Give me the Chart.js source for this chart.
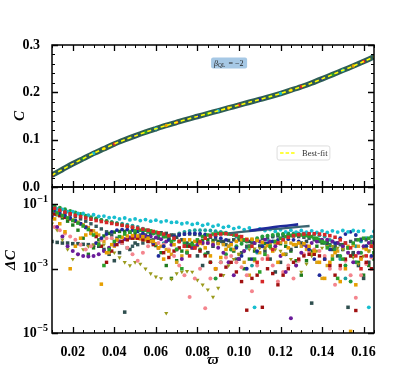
<!DOCTYPE html>
<html>
<head>
<meta charset="utf-8">
<script src="https://cdn.jsdelivr.net/npm/chart.js@4.4.0/dist/chart.umd.min.js"></script>
<style>
html, body { margin: 0; padding: 0; background: #fff; }
#wrap { position: relative; width: 415px; height: 374px; }
#wrap canvas { position: absolute; left: 0; top: 0; }
</style>
</head>
<body>
<div id="wrap">
  <canvas id="topChart" width="415" height="374"></canvas>
  <canvas id="bottomChart" width="415" height="374"></canvas>
</div>
<script>
// --- datos ---
const omegaFit = [0.010,0.015,0.020,0.025,0.030,0.035,0.040,0.045,0.050,0.055,0.060,0.065,0.070,0.075,0.080,0.085,
                  0.090,0.095,0.100,0.105,0.110,0.115,0.120,0.125,0.130,0.135,0.140,0.145,0.150,0.155,0.160,0.165];
const cFit = [0.025,0.037,0.049,0.060,0.071,0.081,0.091,0.0998,0.108,0.1158,0.123,0.130,0.1365,0.143,0.149,0.155,
              0.161,0.167,0.173,0.179,0.185,0.191,0.1975,0.2045,0.2118,0.2198,0.2285,0.2375,0.2465,0.2555,0.265,0.275];

const xTickValues = [0.02,0.04,0.06,0.08,0.10,0.12,0.14,0.16];
const cTickValues = [0.0,0.1,0.2,0.3];
const dcTickValues = [1e-5,1e-3,1e-1];

// rejilla A y rejilla B (desplazada medio paso)
const omegaA = [0.0100,0.0125,0.0150,0.0175,0.0200,0.0225,0.0250,0.0275,0.0300,0.0325,0.0350,0.0375,0.0400,0.0425,0.0450,0.0475,
  0.0500,0.0525,0.0550,0.0575,0.0600,0.0625,0.0650,0.0675,0.0700,0.0725,0.0750,0.0775,0.0800,0.0825,0.0850,0.0875,
  0.0900,0.0925,0.0950,0.0975,0.1000,0.1025,0.1050,0.1075,0.1100,0.1125,0.1150,0.1175,0.1200,0.1225,0.1250,0.1275,
  0.1300,0.1325,0.1350,0.1375,0.1400,0.1425,0.1450,0.1475,0.1500,0.1525,0.1550,0.1575,0.1600,0.1625,0.1650];
const omegaB = [0.01125,0.01375,0.01625,0.01875,0.02125,0.02375,0.02625,0.02875,0.03125,0.03375,0.03625,0.03875,0.04125,0.04375,0.04625,0.04875,
  0.05125,0.05375,0.05625,0.05875,0.06125,0.06375,0.06625,0.06875,0.07125,0.07375,0.07625,0.07875,0.08125,0.08375,0.08625,0.08875,
  0.09125,0.09375,0.09625,0.09875,0.10125,0.10375,0.10625,0.10875,0.11125,0.11375,0.11625,0.11875,0.12125,0.12375,0.12625,0.12875,
  0.13125,0.13375,0.13625,0.13875,0.14125,0.14375,0.14625,0.14875,0.15125,0.15375,0.15625,0.15875,0.16125,0.16375,0.16625];

// log10(ΔC) por serie
const logTeal = [-1.08,-1.14,-1.15,-1.22,-1.22,-1.28,-1.28,-1.33, -1.32,-1.37,-1.36,-1.41,-1.40,-1.45,-1.42,-1.48,
  -1.45,-1.50,-1.47,-1.52,-1.49,-1.54,-1.51,-1.56, -1.55,-1.60,-1.57,-1.62,-1.59,-1.65,-1.61,-1.68,
  -1.64,-1.71,-1.68,-1.75,-1.71,-1.78,-1.73,-4.2, -1.76,-1.81,-1.78,-1.84,-1.79,-1.85,-1.80,-1.86,
  -1.81,-1.86,-1.82,-1.87,-1.82,-1.87,-1.82,-1.86, -1.81,-1.85,-1.81,-1.84,-1.82,-4.2,-1.84];
const logNavy = [-1.20,-1.28,-1.35,-1.42,-1.50,-1.60,-1.72,-1.90, -2.2,-2.05,-1.92,-1.85,-1.80,-1.78,-1.78,-1.80,
  -1.84,-1.90,-2.0,-2.2,-2.6,-2.3,-2.1,-2.0, -1.95,-1.92,-1.90,-1.90,-1.91,-1.93,-1.96,-2.0,
  -2.05,-2.1,-2.2,-2.35,-2.6,-3.0,-2.7,-2.45, -2.3,-2.2,-2.15,-2.1,-2.08,-2.08,-2.1,-2.15,
  -2.25,-2.4,-2.7,-3.2,-2.7,-2.4,-2.2,-2.05, -1.92,-1.85,-1.95,-2.1,-2.3,-2.6,-2.4];
const logSlate = [-2.15,-2.18,-2.2,-2.2,-2.22,-2.22,-2.24,-2.25, -2.27,-2.3,-2.4,-2.55,-2.75,-2.5,-4.35,-2.4,
  -2.2,-2.05,-1.95,-1.9,-1.88,-1.88,-1.9,-1.95, -2.02,-2.1,-2.2,-2.35,-2.6,-2.9,-2.5,-2.3,
  -2.2,-2.15,-2.12,-2.1,-2.1,-2.12,-2.15,-2.2, -2.3,-2.45,-2.7,-3.1,-2.8,-2.55,-2.4,-2.3,
  -2.2,-2.15,-4.07,-2.1,-2.15,-2.25,-2.4,-2.6, -2.4,-4.2,-2.5,-2.9,-3.3,-2.8,-2.5];
const logSlateB = [-1.15,-1.2,-1.26,-1.32,-1.38,-1.45,-1.52,-1.6, -1.68,-1.76,-1.85,-1.95,-2.05,-2.2,-2.35,-2.3,
  -2.25,-2.2,-2.15,-2.1,-2.05,-2.0,-1.97,-1.95, -1.93,-1.92,-1.92,-1.93,-1.95,-1.98,-2.02,-2.08,
  -2.15,-2.25,-2.4,-2.7,-2.5,-2.3,-2.2,-2.12, -2.06,-2.02,-2.0,-1.98,-1.97,-1.97,-1.98,-2.0,
  -2.02,-2.05,-2.1,-2.15,-2.2,-2.25,-2.3,-2.25, -2.2,-2.15,-2.1,-2.08,-2.1,-2.15,-2.2];
const logRed = [-1.12,-1.18,-1.24,-1.29,-1.34,-1.38,-1.42,-1.46, -1.50,-1.53,-1.56,-1.59,-1.62,-1.65,-1.68,-1.71,
  -1.74,-1.77,-1.80,-1.84,-1.88,-1.92,-1.97,-2.05, -2.15,-2.3,-2.6,-2.35,-2.15,-2.05,-1.98,-1.94,
  -1.92,-1.91,-1.92,-1.95,-2.0,-2.1,-2.3,-2.8, -3.4,-2.7,-2.4,-2.2,-2.1,-2.02,-1.97,-1.94,
  -1.92,-1.91,-1.91,-1.92,-1.94,-1.97,-2.02,-2.1, -2.2,-2.35,-2.6,-3.0,-2.6,-2.3,-2.2];
const logGreen = [-1.18,-1.26,-1.34,-1.42,-1.50,-1.58,-1.67,-1.78, -1.95,-2.25,-2.9,-2.4,-2.15,-2.0,-1.92,-1.86,
  -1.82,-1.8,-1.8,-1.82,-1.86,-1.92,-2.0,-2.15, -2.4,-3.0,-2.5,-2.25,-2.1,-2.0,-1.95,-1.92,
  -1.9,-1.9,-1.92,-1.95,-2.0,-2.1,-2.3,-2.7, -3.1,-2.55,-2.3,-2.15,-2.05,-2.0,-1.97,-1.95,
  -1.95,-1.97,-2.0,-2.05,-2.15,-2.35,-2.7,-3.3, -2.7,-2.35,-2.2,-2.1,-2.05,-2.05,-2.5];
const logGreenB = [-1.05,-1.1,-1.15,-1.2,-1.25,-1.3,-1.35,-1.4, -1.44,-1.48,-1.52,-1.56,-1.6,-1.64,-1.68,-1.72,
  -1.76,-1.8,-1.85,-1.9,-1.95,-2.0,-2.05,-2.1, -2.15,-2.2,-2.25,-2.3,-2.4,-2.55,-2.8,-3.3,
  -2.8,-2.55,-2.4,-2.3,-2.22,-2.15,-2.1,-2.05, -2.0,-1.97,-1.95,-1.93,-1.92,-1.92,-1.93,-1.95,
  -1.97,-2.0,-2.05,-2.1,-2.18,-2.28,-2.4,-2.6, -2.9,-3.4,-2.8,-2.5,-2.3,-2.2,-2.15];
const logOrange = [-1.45,-1.6,-1.85,-3.0,-2.3,-2.05,-1.95,-1.9, -1.9,-3.48,-2.5,-2.25,-2.1,-2.02,-1.98,-1.97,
  -1.98,-2.0,-2.05,-2.15,-2.35,-2.7,-2.45,-2.25, -2.15,-2.1,-2.1,-2.15,-2.2,-2.35,-2.6,-3.0,
  -2.65,-2.4,-2.25,-2.15,-2.1,-2.08,-2.08,-2.12, -2.18,-2.28,-2.45,-2.8,-2.55,-2.35,-2.25,-2.2,
  -2.22,-2.3,-2.45,-2.8,-3.3,-2.8,-2.5,-3.4, -3.0,-4.95,-3.5,-2.7,-2.4,-2.3,-2.3];
const logGold = [-1.25,-1.3,-1.36,-1.42,-1.48,-1.55,-1.63,-1.72, -1.82,-1.95,-2.15,-2.5,-2.3,-2.15,-2.08,-2.05,
  -2.05,-2.07,-2.1,-2.15,-2.22,-2.3,-2.4,-2.55, -2.8,-2.6,-2.45,-2.35,-2.28,-2.22,-2.2,-2.2,
  -2.22,-2.25,-2.3,-2.4,-2.55,-2.8,-3.2,-2.75, -2.5,-2.35,-2.25,-2.2,-2.18,-2.18,-2.2,-2.25,
  -2.3,-2.4,-2.55,-2.8,-3.3,-2.9,-2.6,-2.45, -2.35,-2.3,-2.28,-2.3,-2.35,-2.45,-2.6];
const logPurple = [-1.4,-1.7,-2.0,-2.3,-2.45,-2.55,-2.6,-2.62, -2.6,-2.55,-2.45,-2.35,-2.25,-2.15,-2.08,-2.03,
  -2.0,-1.98,-1.98,-2.0,-2.03,-2.08,-2.15,-2.25, -2.4,-2.7,-2.5,-2.35,-2.25,-2.2,-2.2,-2.25,
  -2.35,-2.5,-2.8,-3.2,-2.7,-2.45,-2.3,-2.2, -2.15,-2.1,-2.15,-2.3,-2.6,-3.1,-4.54,-2.9,
  -2.5,-2.3,-2.2,-2.15,-2.1,-2.1,-2.15,-2.2, -2.3,-2.5,-2.8,-2.5,-2.3,-2.2,-2.2];
const logPink = [-1.7,-1.8,-1.9,-2.0,-2.1,-2.25,-2.4,-2.3, -2.2,-2.1,-2.05,-2.05,-2.1,-2.2,-2.35,-2.55,
  -2.75,-2.5,-2.3,-2.2,-2.2,-2.25,-2.4,-2.6, -2.9,-3.2,-3.88,-3.3,-3.0,-4.23,-3.3,-3.0,
  -2.8,-2.65,-2.6,-2.8,-2.95,-3.2,-3.7,-2.9, -2.7,-2.6,-2.9,-3.4,-3.1,-2.9,-3.3,-2.75,
  -2.55,-2.45,-2.4,-2.45,-2.6,-3.0,-3.5,-3.0, -2.75,-3.2,-3.9,-3.2,-2.85,-2.65,-2.55];
const logOlive = [-1.6,-1.8,-2.1,-2.4,-2.7,-2.55,-2.4,-2.3, -2.25,-2.2,-2.25,-2.35,-2.5,-2.65,-2.8,-2.9,
  -2.8,-2.85,-3.0,-3.15,-3.25,-3.3,-4.38,-3.32, -3.15,-3.1,-3.08,-3.1,-3.35,-3.5,-3.65,-3.88,
  -3.6,-3.2,-2.9,-2.7,-2.55,-2.45,-2.4,-2.38, -2.36,-2.35,-2.36,-2.4,-2.45,-2.55,-2.7,-2.9,
  -3.1,-2.85,-2.6,-2.45,-2.35,-2.3,-2.3,-2.35, -2.4,-2.5,-2.65,-2.85,-2.6,-2.45,-2.4];
const logDarkRed = [-1.3,-1.35,-1.4,-1.45,-1.52,-1.6,-1.7,-1.82, -2.0,-2.3,-2.8,-2.45,-2.25,-2.15,-2.1,-2.05,
  -2.05,-2.1,-2.15,-2.25,-2.35,-2.5,-2.65,-2.45, -2.35,-2.3,-2.3,-2.35,-2.45,-2.6,-2.8,-3.0,
  -3.2,-2.95,-2.8,-3.1,-3.4,-4.29,-3.3,-3.2, -4.2,-3.0,-3.15,-3.5,-3.2,-3.0,-2.8,-2.7,
  -2.6,-2.55,-2.55,-2.6,-2.7,-2.9,-3.2,-2.9, -2.7,-2.6,-4.3,-2.65,-2.8,-3.0,-3.6];
const logCyan = [-1.08,-1.14,-1.2,-1.25,-1.3,-1.34,-1.38,-1.42, -1.45,-1.48,-1.51,-1.54,-1.57,-1.6,-1.63,-1.66,
  -1.7,-1.75,-1.8,-1.87,-1.97,-2.2,-2.1,-1.98, -1.9,-1.85,-1.82,-1.8,-1.8,-1.8,-1.81,-1.83,
  -1.85,-1.88,-1.92,-2.0,-2.12,-2.35,-2.9,-2.5, -2.2,-2.08,-2.0,-1.95,-1.92,-1.9,-1.9,-1.9,
  -1.9,-1.91,-1.93,-1.96,-2.0,-2.1,-2.3,-2.7, -3.3,-2.6,-2.3,-2.15,-2.05,-2.0,-2.0];
const logForest = [-1.22,-1.32,-1.42,-1.52,-1.64,-1.8,-2.05,-2.55, -2.35,-2.1,-1.98,-1.9,-1.86,-1.84,-1.84,-1.86,
  -1.9,-1.95,-2.02,-2.12,-2.28,-2.5,-2.9,-3.3, -2.75,-2.45,-2.3,-2.2,-2.15,-2.12,-2.1,-2.12,
  -2.15,-2.2,-2.3,-2.45,-2.7,-3.0,-2.7,-2.45, -2.3,-2.22,-2.18,-2.18,-2.22,-2.3,-2.45,-2.75,
  -3.2,-2.75,-2.45,-2.3,-2.2,-2.15,-2.15,-2.2, -2.25,-2.35,-2.55,-2.8,-3.2,-2.9,-2.7];

// trazos continuos por encima de la banda
const navyStreakX = [0.105,0.108,0.111,0.114,0.117,0.120,0.123,0.126,0.1285];
const navyStreakLog = [-1.82,-1.79,-1.76,-1.73,-1.70,-1.68,-1.66,-1.64,-1.62];
const slateStreakX = [0.095,0.100,0.105,0.110,0.115,0.120,0.125,0.130,0.134];
const slateStreakLog = [-1.90,-1.86,-1.83,-1.80,-1.77,-1.75,-1.72,-1.69,-1.67];

// --- estilos ---
const SERIF = "'Liberation Serif', 'DejaVu Serif', serif";
Chart.defaults.font.family = SERIF;
Chart.defaults.color = '#000';

const series = [
  { xs: omegaB, vals: logRed, color: '#d62728', style: 'rect', r: 2.5 },
  { xs: omegaA, vals: logGreen, color: '#2ca02c', style: 'rect', r: 2.5 },
  { xs: omegaA, vals: logTeal, color: '#17becf', style: 'circle', r: 1.9 },
  { xs: omegaB, vals: logOrange, color: '#e69f00', style: 'rect', r: 2.5 },
  { xs: omegaB, vals: logNavy, color: '#1f2a9a', style: 'circle', r: 1.9 },
  { xs: omegaB, vals: logDarkRed, color: '#a01010', style: 'rect', r: 2.4 },
  { xs: omegaA, vals: logPurple, color: '#6a1b9a', style: 'circle', r: 2.0 },
  { xs: omegaB, vals: logPink, color: '#f4858e', style: 'circle', r: 2.0 },
  { xs: omegaA, vals: logOlive, color: '#9a9a1c', style: 'triangle', r: 2.4, rot: 180 },
  { xs: omegaA, vals: logGold, color: '#d9a21b', style: 'rect', r: 2.4 },
  { xs: omegaB, vals: logGreenB, color: '#239b3a', style: 'circle', r: 2.0 },
  { xs: omegaA, vals: logSlate, color: '#2f4f4f', style: 'rect', r: 2.5 },
  { xs: omegaB, vals: logSlateB, color: '#36595c', style: 'rect', r: 2.4 },
  { xs: omegaB, vals: logCyan, color: '#1b9e9e', style: 'circle', r: 1.9 },
  { xs: omegaA, vals: logForest, color: '#1e7b1e', style: 'rect', r: 2.4 }
];

function toPoints(xs, logs) {
  const pts = [];
  logs.forEach((v, i) => {
    if (v !== null && xs[i] !== undefined) pts.push({ x: xs[i], y: Math.pow(10, v) });
  });
  return pts;
}

function minorTicks(a, b, step) {
  const out = [];
  for (let v = a; v <= b + 1e-9; v += step) out.push(+v.toFixed(4));
  return out;
}

// marco con ticks hacia dentro en los cuatro lados
const framePlugin = {
  id: 'frame',
  afterDatasetsDraw(chart, args, opts) {
    const { ctx, chartArea: a } = chart;
    const xs = chart.scales.x, ys = chart.scales.y;
    ctx.save();
    ctx.strokeStyle = '#000';
    const xTicks = (vals, len) => vals.forEach(v => {
      const p = Math.round(xs.getPixelForValue(v)) + 0.5;
      ctx.beginPath();
      ctx.moveTo(p, a.top); ctx.lineTo(p, a.top + len);
      ctx.moveTo(p, a.bottom); ctx.lineTo(p, a.bottom - len);
      ctx.stroke();
    });
    const yTicks = (vals, len) => vals.forEach(v => {
      const p = Math.round(ys.getPixelForValue(v)) + 0.5;
      ctx.beginPath();
      ctx.moveTo(a.left, p); ctx.lineTo(a.left + len, p);
      ctx.moveTo(a.right, p); ctx.lineTo(a.right - len, p);
      ctx.stroke();
    });
    ctx.lineWidth = 1;
    xTicks(opts.xMinor || [], 3);
    yTicks(opts.yMinor || [], 3);
    ctx.lineWidth = 1.3;
    xTicks(opts.xMajor || [], 6);
    yTicks(opts.yMajor || [], 6);
    ctx.lineWidth = 1.5;
    ctx.strokeRect(a.left, a.top, a.right - a.left, a.bottom - a.top);
    ctx.restore();
  }
};

// etiqueta beta y leyenda del panel superior
const notesPlugin = {
  id: 'notes',
  afterDraw(chart) {
    const { ctx, chartArea: a } = chart;
    const W = a.right - a.left, H = a.bottom - a.top;
    ctx.save();
    // caja beta
    const bx = a.left + 0.55 * W, by = a.top + 0.127 * H;
    ctx.fillStyle = 'rgba(150,190,225,0.85)';
    ctx.beginPath(); ctx.roundRect(bx - 18, by - 5.5, 36, 11, 2); ctx.fill();
    ctx.fillStyle = '#222';
    ctx.textBaseline = 'middle';
    let x = bx - 15;
    ctx.font = 'italic 8px ' + SERIF;
    ctx.fillText('β', x, by + 0.5); x += ctx.measureText('β').width;
    ctx.font = '5.5px ' + SERIF;
    ctx.fillText('QL', x, by + 2.5); x += ctx.measureText('QL').width + 1;
    ctx.font = '8px ' + SERIF;
    ctx.fillText(' = \u22122', x, by + 0.5);
    // leyenda
    const lx = a.left + 0.699 * W, ly = a.top + 0.711 * H;
    const lw = 0.164 * W, lh = 0.099 * H;
    ctx.fillStyle = '#fff';
    ctx.strokeStyle = '#dddddd';
    ctx.lineWidth = 1;
    ctx.beginPath(); ctx.roundRect(lx, ly, lw, lh, 2); ctx.fill(); ctx.stroke();
    ctx.strokeStyle = '#ffff00';
    ctx.lineWidth = 1.6;
    ctx.setLineDash([3.5, 2]);
    ctx.beginPath(); ctx.moveTo(lx + 3, ly + lh / 2); ctx.lineTo(lx + 19, ly + lh / 2); ctx.stroke();
    ctx.setLineDash([]);
    ctx.fillStyle = '#333';
    ctx.font = '8.5px ' + SERIF;
    ctx.fillText('Best-fit', lx + 25, ly + lh / 2 + 0.5);
    ctx.restore();
  }
};

// etiquetas 10^n del eje logarítmico
const powLabelPlugin = {
  id: 'powLabels',
  afterDraw(chart, args, opts) {
    const { ctx, chartArea: a } = chart;
    const ys = chart.scales.y;
    ctx.save();
    ctx.fillStyle = '#000';
    ctx.textBaseline = 'middle';
    ctx.textAlign = 'right';
    (opts.values || []).forEach(v => {
      const p = ys.getPixelForValue(v);
      const e = '\u2212' + Math.round(-Math.log10(v));
      const right = a.left - 4;
      ctx.font = 'bold 10px ' + SERIF;
      const ew = ctx.measureText(e).width;
      ctx.fillText(e, right, p - 5);
      ctx.font = 'bold 14px ' + SERIF;
      ctx.fillText('10', right - ew - 0.5, p);
    });
    ctx.restore();
  }
};

const X_MIN = 0.01, X_MAX = 0.165;
const tickFont = { size: 14, weight: 'bold' };
const titleFont = { size: 15, weight: 'bold', style: 'italic' };

// --- panel superior: C ---
const fitPoints = omegaFit.map((x, i) => ({ x: x, y: cFit[i] }));
const bandColors = ['#d62728', '#2f4f4f', '#1f2a9a', '#2ca02c', '#17becf', '#e69f00'];

new Chart(document.getElementById('topChart'), {
  type: 'line',
  data: {
    datasets: [
      { label: 'Best-fit', data: fitPoints, borderColor: '#ffff00', borderWidth: 1.6, borderDash: [4, 3],
        pointRadius: 0, fill: false, tension: 0.3 },
      { label: 'muestras', data: fitPoints, showLine: false, pointRadius: 1.7, pointBorderWidth: 0,
        pointBackgroundColor: fitPoints.map((p, i) => bandColors[i % bandColors.length]) },
      { label: 'banda', data: fitPoints, borderColor: '#2e5e55', borderWidth: 5.5, pointRadius: 0,
        fill: false, tension: 0.3 }
    ]
  },
  options: {
    responsive: false,
    animation: false,
    layout: { padding: { top: 45, right: 41, bottom: 187, left: 0 } },
    plugins: {
      legend: { display: false },
      tooltip: { enabled: false },
      frame: {
        xMajor: xTickValues, xMinor: minorTicks(0.01, 0.165, 0.005),
        yMajor: cTickValues, yMinor: minorTicks(0, 0.3, 0.02)
      }
    },
    scales: {
      x: { type: 'linear', display: false, min: X_MIN, max: X_MAX },
      y: {
        type: 'linear', min: 0, max: 0.3,
        afterFit(scale) { scale.width = 52; },
        afterBuildTicks(scale) { scale.ticks = cTickValues.map(v => ({ value: v })); },
        grid: { display: false },
        border: { display: false },
        ticks: { padding: 4, font: tickFont, callback: v => v.toFixed(1) },
        title: { display: true, text: 'C', font: titleFont, padding: { top: 11, bottom: 0 } }
      }
    }
  },
  plugins: [framePlugin, notesPlugin]
});

// --- panel inferior: ΔC ---
const bottomSets = [
  { label: 'navy', data: toPoints(navyStreakX, navyStreakLog), showLine: true, borderColor: '#1f2a9a',
    borderWidth: 2.6, pointRadius: 0 },
  { label: 'slate', data: toPoints(slateStreakX, slateStreakLog), showLine: true, borderColor: '#3b6470',
    borderWidth: 2.3, pointRadius: 0 }
].concat(series.map((s, k) => ({
  label: 's' + k,
  data: toPoints(s.xs, s.vals),
  pointStyle: s.style,
  rotation: s.rot || 0,
  pointRadius: s.r,
  pointBackgroundColor: s.color,
  pointBorderWidth: 0
})));

new Chart(document.getElementById('bottomChart'), {
  type: 'scatter',
  data: { datasets: bottomSets },
  options: {
    responsive: false,
    animation: false,
    layout: { padding: { top: 187, right: 41, bottom: 0, left: 0 } },
    plugins: {
      legend: { display: false },
      tooltip: { enabled: false },
      frame: {
        xMajor: xTickValues, xMinor: minorTicks(0.01, 0.165, 0.005),
        yMajor: dcTickValues, yMinor: []
      },
      powLabels: { values: dcTickValues }
    },
    scales: {
      x: {
        type: 'linear', min: X_MIN, max: X_MAX,
        afterFit(scale) { scale.height = 41; },
        afterBuildTicks(scale) { scale.ticks = xTickValues.map(v => ({ value: v })); },
        grid: { display: false },
        border: { display: false },
        ticks: { padding: 3, maxRotation: 0, font: tickFont, callback: v => v.toFixed(2) },
        title: { display: true, text: 'ϖ', font: titleFont, padding: { top: 0, bottom: 5 } }
      },
      y: {
        type: 'logarithmic', min: 1e-5, max: 0.35,
        afterFit(scale) { scale.width = 52; },
        grid: { display: false },
        border: { display: false },
        ticks: { display: false },
        title: { display: true, text: 'ΔC', font: titleFont, padding: { top: 2, bottom: 0 } }
      }
    }
  },
  plugins: [framePlugin, powLabelPlugin]
});
</script>
</body>
</html>
